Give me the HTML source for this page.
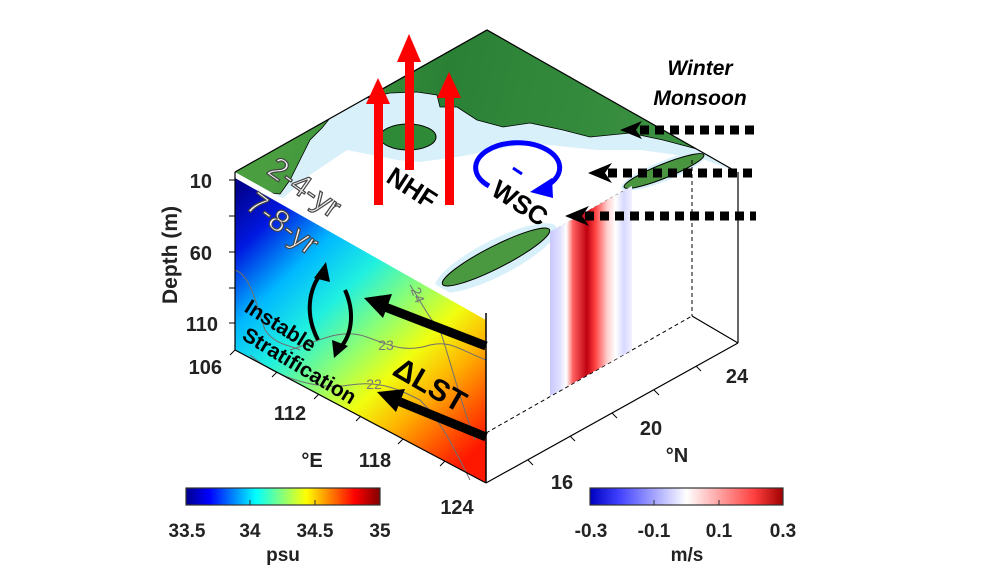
<!DOCTYPE html>
<html><head><meta charset="utf-8"><style>
html,body{margin:0;padding:0;background:#fff;}
svg{display:block;font-family:"Liberation Sans",Arial,sans-serif;font-weight:bold;}
</style></head><body>
<svg width="986" height="581" viewBox="0 0 986 581" xmlns="http://www.w3.org/2000/svg">
<defs>
<linearGradient id="sal" gradientUnits="userSpaceOnUse" x1="240" y1="185" x2="486" y2="440">
<stop offset="0" stop-color="#00008c"/>
<stop offset="0.13" stop-color="#0018e0"/>
<stop offset="0.28" stop-color="#00b8ff"/>
<stop offset="0.42" stop-color="#20f0e0"/>
<stop offset="0.56" stop-color="#90ff70"/>
<stop offset="0.68" stop-color="#f0ff10"/>
<stop offset="0.8" stop-color="#ffb000"/>
<stop offset="0.92" stop-color="#ff5000"/>
<stop offset="1" stop-color="#ff1800"/>
</linearGradient>
<linearGradient id="jet" x1="0" x2="1" y1="0" y2="0">
<stop offset="0" stop-color="#00008f"/><stop offset="0.12" stop-color="#0000ff"/>
<stop offset="0.36" stop-color="#00ffff"/><stop offset="0.62" stop-color="#ffff00"/>
<stop offset="0.87" stop-color="#ff0000"/><stop offset="1" stop-color="#800000"/>
</linearGradient>
<linearGradient id="bwr" x1="0" x2="1" y1="0" y2="0">
<stop offset="0" stop-color="#0000c0"/><stop offset="0.15" stop-color="#4040ff"/>
<stop offset="0.5" stop-color="#ffffff"/><stop offset="0.85" stop-color="#ff4040"/>
<stop offset="1" stop-color="#a00000"/>
</linearGradient>
<linearGradient id="vel" gradientUnits="userSpaceOnUse" x1="550" y1="0" x2="632" y2="0">
<stop offset="0" stop-color="#c8c8ff"/><stop offset="0.12" stop-color="#e0e0ff"/>
<stop offset="0.2" stop-color="#fff"/><stop offset="0.28" stop-color="#ff6060"/>
<stop offset="0.45" stop-color="#c00010"/><stop offset="0.55" stop-color="#ff4040"/>
<stop offset="0.7" stop-color="#ffd0d0"/><stop offset="0.8" stop-color="#fff"/>
<stop offset="0.9" stop-color="#d8d8ff"/><stop offset="1" stop-color="#f0f0ff"/>
</linearGradient>
<linearGradient id="land" gradientUnits="userSpaceOnUse" x1="300" y1="60" x2="650" y2="140">
<stop offset="0" stop-color="#4a9e40"/><stop offset="0.4" stop-color="#2a8035"/><stop offset="1" stop-color="#3a9040"/>
</linearGradient>
<clipPath id="top"><polygon points="235,172 487,30 737,172 486,313"/></clipPath>
</defs>

<!-- top face map -->
<g clip-path="url(#top)">
<polygon points="235,172 487,30 737,172 486,313" fill="#fff"/>
<polygon points="235,172 487,30 737,172 700,158 640,150 597,150 530,143 463,156 420,162 397,160 347,150 310,175 283,198 255,190" fill="#d8f0fa"/>
<polygon points="235,172 337,114 330,118 322,128 310,140 300,160 290,180 280,194 262,192 245,182" fill="url(#land)" stroke="#000" stroke-width="0.8"/>
<polygon points="367,98 487,30 697,149 663,140 630,133 590,137 563,130 530,123 503,127 477,120 457,107 440,107 437,95 417,92 390,93" fill="url(#land)" stroke="#000" stroke-width="0.8"/>
<ellipse cx="408" cy="137" rx="28" ry="13" fill="#2f8a38" stroke="#000" stroke-width="1"/>
<ellipse cx="664" cy="171" rx="46" ry="10" transform="rotate(-22 664 171)" fill="#d8f0fa"/>
<ellipse cx="664" cy="171" rx="43" ry="7" transform="rotate(-22 664 171)" fill="#4a9540" stroke="#000" stroke-width="1"/>
<ellipse cx="496" cy="258" rx="68" ry="18" transform="rotate(-27 496 258)" fill="#d8f0fa"/>
<ellipse cx="496" cy="257" rx="60" ry="11" transform="rotate(-27 496 257)" fill="#4a9840" stroke="#000" stroke-width="1"/>
</g>
<polyline points="235,172 487,30 737,172" fill="none" stroke="#000" stroke-width="1.2"/>

<!-- hidden box lines -->
<line x1="692" y1="160" x2="692" y2="316" stroke="#000" stroke-dasharray="4,3"/>
<line x1="486" y1="433" x2="692" y2="316" stroke="#000" stroke-dasharray="4,3"/>
<line x1="692" y1="316" x2="738" y2="343" stroke="#000" stroke-width="1.2"/>
<line x1="738" y1="172" x2="738" y2="343" stroke="#000" stroke-width="1.2"/>
<line x1="558" y1="228" x2="625" y2="190" stroke="#000" stroke-dasharray="3,3" stroke-width="0.8"/>

<!-- velocity slice -->
<polygon points="550,232 632,186 632,350 550,396" fill="url(#vel)"/>

<!-- salinity face -->
<polygon points="235,178 486,320 486,483 235,350" fill="url(#sal)"/>
<g fill="none" stroke="#707070" stroke-width="1">
<path d="M235,270 C250,275 255,300 265,330 C275,345 290,345 300,350"/>
<path d="M290,350 C320,340 340,330 360,335 C380,340 400,355 430,345 C450,340 460,350 486,360"/>
<path d="M250,355 C280,380 320,390 350,385 C380,380 400,390 420,400 C440,420 450,440 470,480"/>
<path d="M410,285 C420,300 430,320 440,330 C450,360 460,400 475,440"/>
</g>
<line x1="235" y1="172" x2="235" y2="350" stroke="#000" stroke-width="1.2"/>
<line x1="486" y1="313" x2="486" y2="483" stroke="#000" stroke-width="1.5"/>
<line x1="235" y1="350" x2="486" y2="483" stroke="#000" stroke-width="1.2"/>
<line x1="486" y1="483" x2="738" y2="343" stroke="#000" stroke-width="1.2"/>
<g stroke="#000" stroke-width="1">
<line x1="229" y1="180" x2="235" y2="180"/><line x1="229" y1="216" x2="235" y2="216"/><line x1="229" y1="252" x2="235" y2="252"/><line x1="229" y1="288" x2="235" y2="288"/><line x1="229" y1="323" x2="235" y2="323"/>
<line x1="235" y1="350" x2="230" y2="355"/><line x1="277" y1="372" x2="272" y2="377"/><line x1="319" y1="394" x2="314" y2="399"/><line x1="361" y1="416" x2="356" y2="421"/><line x1="403" y1="439" x2="398" y2="444"/><line x1="445" y1="461" x2="440" y2="466"/>
<line x1="528" y1="460" x2="533" y2="465"/><line x1="570" y1="436" x2="575" y2="441"/><line x1="612" y1="413" x2="617" y2="418"/><line x1="654" y1="390" x2="659" y2="395"/><line x1="696" y1="366" x2="701" y2="371"/>
</g>

<!-- red arrows -->
<g fill="#ff0000">
<rect x="374" y="100" width="9" height="105"/><polygon points="366,104 378,78 390,104"/>
<rect x="405" y="58" width="9" height="112"/><polygon points="397,62 409,34 421,62"/>
<rect x="445" y="95" width="9" height="110"/><polygon points="437,98 449,72 461,98"/>
</g>

<!-- WSC circle -->
<path d="M489,186 A42,25 0 1 1 548,185" fill="none" stroke="#0000ff" stroke-width="5"/>
<polygon points="530,192 552,178 553,198" fill="#0000ff"/>
<line x1="513" y1="168" x2="522" y2="174" stroke="#0000ff" stroke-width="3"/>

<!-- dotted arrows -->
<g stroke="#000" stroke-width="9" stroke-dasharray="9,6">
<line x1="640" y1="130" x2="756" y2="130"/>
<line x1="608" y1="173" x2="756" y2="173"/>
<line x1="585" y1="216" x2="756" y2="216"/>
</g>
<g fill="#000">
<polygon points="620,130 642,121 636,130 642,139"/>
<polygon points="588,173 612,163 605,173 612,183"/>
<polygon points="565,216 589,206 582,216 589,226"/>
</g>

<!-- black arrows on face -->
<g stroke="#000" stroke-width="9">
<line x1="486" y1="346" x2="385" y2="307"/>
<line x1="486" y1="437" x2="398" y2="401"/>
</g>
<g fill="#000">
<polygon points="364,298 392,294 383,318"/>
<polygon points="377,392 405,389 396,412"/>
</g>
<path d="M318,340 C305,315 308,290 322,272" fill="none" stroke="#000" stroke-width="4"/>
<polygon points="326,262 314,278 330,282"/>
<path d="M345,290 C355,312 352,335 340,348" fill="none" stroke="#000" stroke-width="4"/>
<polygon points="334,358 332,340 348,346"/>

<!-- texts -->
<g font-size="26" fill="#000">
<text x="412" y="197" transform="rotate(33 412 188)" text-anchor="middle">NHF</text>
<text x="520" y="212" transform="rotate(33 520 203)" text-anchor="middle">WSC</text>
<text x="430" y="395" transform="rotate(30 430 385)" text-anchor="middle" font-size="30">ΔLST</text>
<text x="281" y="333" transform="rotate(32 281 325)" text-anchor="middle" font-size="21">Instable</text>
<text x="300" y="373" transform="rotate(31 300 365)" text-anchor="middle" font-size="21">Stratification</text>
</g>
<g font-size="31" fill="#f4f4f4" stroke="#444" stroke-width="1.2" font-weight="normal">
<text x="305" y="198" transform="rotate(35 305 187)" text-anchor="middle">2-4-yr</text>
<text x="283" y="234" transform="rotate(37 283 223)" text-anchor="middle">7-8-yr</text>
</g>
<g font-size="14" fill="#777" font-weight="normal">
<text x="418" y="300" transform="rotate(70 418 295)" text-anchor="middle">24</text>
<text x="386" y="350" text-anchor="middle">23</text>
<text x="374" y="389" text-anchor="middle">22</text>
</g>
<g font-size="21" font-style="italic" text-anchor="middle">
<text x="700" y="75">Winter</text>
<text x="700" y="105">Monsoon</text>
</g>
<g font-size="20" fill="#222">
<text x="212" y="188" text-anchor="end">10</text>
<text x="212" y="260" text-anchor="end">60</text>
<text x="218" y="331" text-anchor="end">110</text>
<text x="222" y="374" text-anchor="end">106</text>
<text x="290" y="420" text-anchor="middle">112</text>
<text x="375" y="467" text-anchor="middle">118</text>
<text x="457" y="514" text-anchor="middle">124</text>
<text x="312" y="467" text-anchor="middle">°E</text>
<text x="562" y="489" text-anchor="middle">16</text>
<text x="651" y="435" text-anchor="middle">20</text>
<text x="737" y="383" text-anchor="middle">24</text>
<text x="677" y="462" text-anchor="middle">°N</text>
<text x="177" y="255" transform="rotate(-90 177 255)" text-anchor="middle" font-size="21">Depth (m)</text>
</g>

<!-- colorbars -->
<rect x="186" y="488" width="194" height="17" fill="url(#jet)" stroke="#333" stroke-width="1.2"/>
<line x1="250" y1="505" x2="250" y2="500" stroke="#333"/><line x1="315" y1="505" x2="315" y2="500" stroke="#333"/>
<rect x="590" y="488" width="193" height="17" fill="url(#bwr)" stroke="#333" stroke-width="1.2"/>
<line x1="654" y1="505" x2="654" y2="500" stroke="#333"/><line x1="719" y1="505" x2="719" y2="500" stroke="#333"/>
<g font-size="19" fill="#222" text-anchor="middle">
<text x="187" y="537">33.5</text><text x="250" y="537">34</text><text x="315" y="537">34.5</text><text x="380" y="537">35</text>
<text x="283" y="561">psu</text>
<text x="591" y="537">-0.3</text><text x="654" y="537">-0.1</text><text x="719" y="537">0.1</text><text x="783" y="537">0.3</text>
<text x="687" y="561">m/s</text>
</g>
</svg>
</body></html>
